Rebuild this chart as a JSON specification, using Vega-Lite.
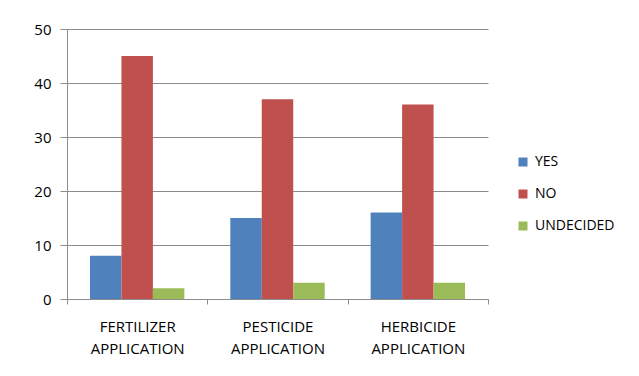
{
  "$schema": "https://vega.github.io/schema/vega-lite/v6.json",
  "width": 421,
  "height": 270,
  "autosize": {"type": "none"},
  "padding": {"left": 67, "top": 29, "right": 151, "bottom": 77},
  "background": "white",
  "data": {
    "values": [
      {"cat": "FERTILIZER APPLICATION", "resp": "YES", "v": 8},
      {"cat": "FERTILIZER APPLICATION", "resp": "NO", "v": 45},
      {"cat": "FERTILIZER APPLICATION", "resp": "UNDECIDED", "v": 2},
      {"cat": "PESTICIDE APPLICATION", "resp": "YES", "v": 15},
      {"cat": "PESTICIDE APPLICATION", "resp": "NO", "v": 37},
      {"cat": "PESTICIDE APPLICATION", "resp": "UNDECIDED", "v": 3},
      {"cat": "HERBICIDE APPLICATION", "resp": "YES", "v": 16},
      {"cat": "HERBICIDE APPLICATION", "resp": "NO", "v": 36},
      {"cat": "HERBICIDE APPLICATION", "resp": "UNDECIDED", "v": 3}
    ]
  },
  "mark": {"type": "bar"},
  "encoding": {
    "x": {
      "field": "cat", "type": "nominal", "sort": null,
      "scale": {"paddingInner": 0, "paddingOuter": 0},
      "axis": {
        "title": null, "labelAngle": 0, "tickBand": "extent",
        "tickSize": 5, "labelPadding": 15,
        "labelExpr": "split(datum.label, ' ')",
        "labelLineHeight": 22, "labelFontSize": 15,
        "domainColor": "#8c8c8c", "tickColor": "#8c8c8c"
      }
    },
    "xOffset": {
      "field": "resp", "type": "nominal", "sort": ["YES", "NO", "UNDECIDED"],
      "scale": {"paddingInner": 0, "paddingOuter": 0.73}
    },
    "y": {
      "field": "v", "type": "quantitative",
      "scale": {"domain": [0, 50], "nice": false},
      "axis": {
        "title": null, "values": [0, 10, 20, 30, 40, 50],
        "tickSize": 7, "labelPadding": 9, "labelFontSize": 15,
        "gridColor": "#8c8c8c", "domainColor": "#8c8c8c", "tickColor": "#8c8c8c"
      }
    },
    "color": {
      "field": "resp", "type": "nominal", "sort": ["YES", "NO", "UNDECIDED"],
      "scale": {"domain": ["YES", "NO", "UNDECIDED"], "range": ["#4F81BD", "#C0504D", "#9BBB59"]},
      "legend": {
        "title": null, "orient": "none", "legendX": 449, "legendY": 126,
        "symbolType": "square", "symbolSize": 81, "symbolStrokeWidth": 0,
        "labelOffset": 5,
        "rowPadding": 18, "labelFontSize": 14, "labelFont": "Open Sans", "labelColor": "#000"
      }
    }
  },
  "config": {
    "view": {"stroke": null},
    "axis": {
      "labelFont": "Open Sans", "labelColor": "#000",
      "domainWidth": 1, "tickWidth": 1, "gridWidth": 1
    },
    "axisX": {"grid": false}
  }
}
